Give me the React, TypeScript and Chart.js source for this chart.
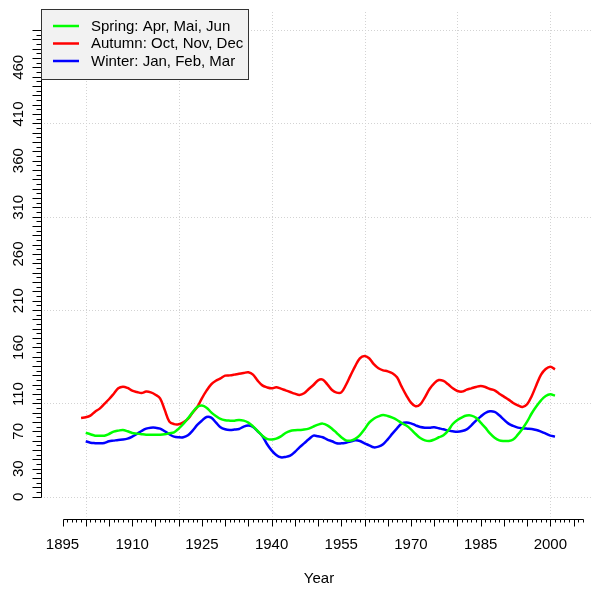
import React, { useEffect, useRef } from "react";
import { Chart, registerables } from "chart.js";

Chart.register(...registerables);

const W = 596;
const H = 590;
const FONT_FAMILY = '"Liberation Sans", Arial, Helvetica, sans-serif';

const years = [
  1899, 1900, 1901, 1902, 1903, 1904, 1905, 1906, 1907, 1908, 1909, 1910, 1911, 1912, 1913, 1914, 1915, 1916, 1917, 1918, 1919,
  1920, 1921, 1922, 1923, 1924, 1925, 1926, 1927, 1928, 1929, 1930, 1931, 1932, 1933, 1934, 1935, 1936, 1937, 1938, 1939,
  1940, 1941, 1942, 1943, 1944, 1945, 1946, 1947, 1948, 1949, 1950, 1951, 1952, 1953, 1954, 1955, 1956, 1957, 1958, 1959,
  1960, 1961, 1962, 1963, 1964, 1965, 1966, 1967, 1968, 1969, 1970, 1971, 1972, 1973, 1974, 1975, 1976, 1977, 1978, 1979,
  1980, 1981, 1982, 1983, 1984, 1985, 1986, 1987, 1988, 1989, 1990, 1991, 1992, 1993, 1994, 1995, 1996, 1997, 1998, 1999,
  2000, 2001,
];

const springVals = [
  null,
  68.5, 66.9, 65.4, 65.4, 65.4, 67.2, 69.7, 70.8, 71.5, 70.1, 68.3, 67.6, 67, 66.5, 66.5, 66.5, 66.5, 66.9, 67.9, 69, 73, 77.9, 84, 90.4, 96,
  97.6, 95.4, 90.4, 86.5, 83.3, 81.9, 81.5, 81.5, 82.2, 81.5, 79.4, 75.4, 70.4, 65.4, 61.9, 61.2, 62.2, 64.7, 68.3, 70.4, 71.2, 71.5, 71.9, 72.9, 75.1, 77.2,
  78.3, 76.5, 72.9, 68.3, 63.7, 60.4, 60.1, 61.9, 66.1, 72.2, 79.4, 83.6, 86.1, 87.6, 86.5, 84.7, 82.2, 79, 76.2, 72.2, 67.2, 62.9, 60.4, 59.7, 61.2, 63.7,
  65.8, 70.8, 77.9, 82.2, 85.1, 86.9, 86.9, 84.7, 79.4, 74, 67.9, 63.3, 60.4, 59.7, 59.7, 61.2, 66.5, 72.9, 80.4, 89.4, 96.9, 103.3, 107.9, 109.7, 108.3,
];

const autumnVals = [
  84.4, 85.1, 86.9, 91.1, 94.4, 99.4, 104.4, 110.1, 116.1, 117.9, 116.5, 113.6, 112.2, 111.1, 112.6, 111.8, 109.3, 105.4, 93, 80.5, 77.8, 77.6, 79.7, 83.3, 90.1, 96.1,
  105.4, 113.6, 120.4, 124.3, 126.8, 129.7, 130, 130.8, 131.8, 132.6, 133.3, 130.8, 124.3, 119.3, 117.2, 116.1, 117.2, 115.8, 114, 112.2, 110.4, 109, 110.8, 115.4, 119.7, 124.7,
  125.4, 120.4, 114.3, 111.5, 111.8, 119.7, 130, 140, 148.3, 150.8, 148.3, 142, 137.6, 135.4, 134.3, 132.2, 127.9, 117.9, 108.6, 100.8, 96.9, 99, 106.5, 115.4, 121.5, 125,
  124, 120.4, 116.1, 113.3, 112.6, 114.7, 116.1, 117.6, 118.6, 117.6, 115.4, 114, 110.4, 107.2, 104, 100.4, 97.9, 96.1, 99, 107.9, 119.7, 130.8, 136.8, 139.3, 136.5,
];

const winterVals = [
  null,
  59.4, 57.9, 57.4, 57.2, 57.6, 59.4, 60.1, 60.8, 61.2, 62.2, 64.4, 67.2, 70.4, 72.9, 74, 74, 72.9, 70.1, 66.9, 64.4, 63.7, 63.7, 65.8, 70.8, 76.9,
  81.5, 85.4, 84.7, 79.7, 74.4, 72.2, 71.5, 71.9, 72.6, 75.1, 76.2, 74.7, 70.1, 65.1, 56.5, 49.7, 44.7, 42.2, 42.6, 44, 47.9, 52.9, 57.2, 61.5, 65.4, 64.7,
  63.7, 61.2, 59.4, 57.2, 57.2, 57.9, 59, 60.4, 59.7, 57.2, 55.1, 52.9, 53.6, 56.2, 61.5, 67.6, 73.3, 78.3, 79.4, 78.6, 76.5, 74.7, 74, 74, 74.4, 73.3,
  72.2, 70.8, 70.1, 69.7, 70.4, 72.2, 76.5, 81.5, 85.8, 89.7, 91.5, 90.8, 87.2, 82.6, 78.3, 75.8, 74, 73.3, 72.9, 72.6, 71.5, 69.7, 67.6, 65.4, 64.4,
];

const seriesLabels = ["Spring: Apr, Mai, Jun", "Autumn: Oct, Nov, Dec", "Winter: Jan, Feb, Mar"];
const seriesColors = ["#00FF00", "#FF0000", "#0000FF"];

const xGridValues = [1900, 1920, 1940, 1960, 1980, 2000];
const yGridValues = [0, 100, 200, 300, 400, 500];
const xTickLabels = [1895, 1910, 1925, 1940, 1955, 1970, 1985, 2000];
const yTickLabels = [0, 30, 70, 110, 160, 210, 260, 310, 360, 410, 460];
const xAxisFrom = 1895;
const xAxisTo = 2007;
const yAxisFrom = 0;
const yAxisTo = 500;
const xTitle = "Year";

const rPlotPlugin = {
  id: "rPlot",
  beforeDatasetsDraw(chart: any) {
    const { ctx, chartArea } = chart;
    const xs = chart.scales.x;
    const ys = chart.scales.y;
    ctx.save();
    ctx.strokeStyle = "#D3D3D3";
    ctx.lineWidth = 1;
    ctx.setLineDash([1, 2]);
    for (const v of xGridValues) {
      const px = Math.round(xs.getPixelForValue(v)) + 0.5;
      ctx.beginPath();
      ctx.moveTo(px, chartArea.top);
      ctx.lineTo(px, chartArea.bottom);
      ctx.stroke();
    }
    for (const v of yGridValues) {
      const py = Math.round(ys.getPixelForValue(v)) + 0.5;
      ctx.beginPath();
      ctx.moveTo(chartArea.left, py);
      ctx.lineTo(chartArea.right, py);
      ctx.stroke();
    }
    ctx.restore();
  },
  afterDatasetsDraw(chart: any) {
    const { ctx, chartArea } = chart;
    const xs = chart.scales.x;
    const ys = chart.scales.y;
    ctx.save();
    ctx.setLineDash([]);
    ctx.strokeStyle = "#000";
    ctx.fillStyle = "#000";
    ctx.lineWidth = 1;

    // x axis
    const axisY = Math.round(chartArea.bottom + 2) + 0.5;
    ctx.beginPath();
    ctx.moveTo(Math.round(xs.getPixelForValue(xAxisFrom)) + 0.5, axisY);
    ctx.lineTo(Math.round(xs.getPixelForValue(xAxisTo)) + 0.5, axisY);
    ctx.stroke();
    for (let yr = xAxisFrom; yr <= xAxisTo; yr++) {
      const px = Math.round(xs.getPixelForValue(yr)) + 0.5;
      const len = yr % 5 === 0 ? 7 : 3;
      ctx.beginPath();
      ctx.moveTo(px, axisY);
      ctx.lineTo(px, axisY + len);
      ctx.stroke();
    }
    ctx.font = `15px ${FONT_FAMILY}`;
    ctx.textAlign = "center";
    ctx.textBaseline = "middle";
    for (const v of xTickLabels) {
      ctx.fillText(String(v), xs.getPixelForValue(v), 545);
    }

    // y axis
    const axisX = Math.round(chartArea.left) + 0.5;
    ctx.beginPath();
    ctx.moveTo(axisX, Math.round(ys.getPixelForValue(yAxisFrom)) + 0.5);
    ctx.lineTo(axisX, Math.round(ys.getPixelForValue(yAxisTo)) + 0.5);
    ctx.stroke();
    for (let v = yAxisFrom; v <= yAxisTo; v += 5) {
      const py = Math.round(ys.getPixelForValue(v)) + 0.5;
      const len = v % 10 === 0 ? 9 : 5;
      ctx.beginPath();
      ctx.moveTo(axisX, py);
      ctx.lineTo(axisX - len, py);
      ctx.stroke();
    }
    for (const v of yTickLabels) {
      ctx.save();
      ctx.translate(18.5, ys.getPixelForValue(v));
      ctx.rotate(-Math.PI / 2);
      ctx.fillText(String(v), 0, 0);
      ctx.restore();
    }

    // x title
    ctx.fillText(xTitle, 319, 579);

    // legend
    const lx = 41.5, ly = 9.5, lw = 207, lh = 70;
    ctx.fillStyle = "#F2F2F2";
    ctx.fillRect(lx, ly, lw, lh);
    ctx.strokeStyle = "#333";
    ctx.strokeRect(lx, ly, lw, lh);
    ctx.textAlign = "left";
    chart.data.datasets.forEach((ds: any, i: number) => {
      const yy = 26 + i * 17.5;
      ctx.strokeStyle = ds.borderColor;
      ctx.lineWidth = 2.5;
      ctx.beginPath();
      ctx.moveTo(53, yy);
      ctx.lineTo(79, yy);
      ctx.stroke();
      ctx.fillStyle = "#000";
      ctx.fillText(ds.label, 91, yy + 0.5);
    });
    ctx.restore();
  },
};

export default function App() {
  const ref = useRef<HTMLCanvasElement | null>(null);
  useEffect(() => {
    document.body.style.margin = "0";
    const canvas = ref.current;
    if (!canvas) return;
    const valuesList = [springVals, autumnVals, winterVals];
    const chart = new Chart(canvas, {
      type: "line",
      data: {
        datasets: valuesList.map((vals, i) => ({
          label: seriesLabels[i],
          data: years.map((yr, j) => ({ x: yr, y: vals[j] })),
          borderColor: seriesColors[i],
          backgroundColor: seriesColors[i],
          borderWidth: 2.5,
          pointRadius: 0,
          tension: 0.35,
          fill: false,
          spanGaps: false,
        })),
      },
      options: {
        responsive: false,
        animation: false,
        devicePixelRatio: 1,
        layout: { padding: { left: 41, top: 12, right: 3, bottom: 73.5 } },
        scales: {
          x: { type: "linear", min: 1890.37, max: 2009.18, display: false },
          y: { type: "linear", min: -21.2, max: 519.3, display: false },
        },
        plugins: { legend: { display: false }, tooltip: { enabled: false } },
      },
      plugins: [rPlotPlugin],
    } as any);
    return () => chart.destroy();
  }, []);
  return (
    <div style={{ width: W, height: H, background: "#fff" }}>
      <canvas ref={ref} width={W} height={H} style={{ display: "block" }} />
    </div>
  );
}
